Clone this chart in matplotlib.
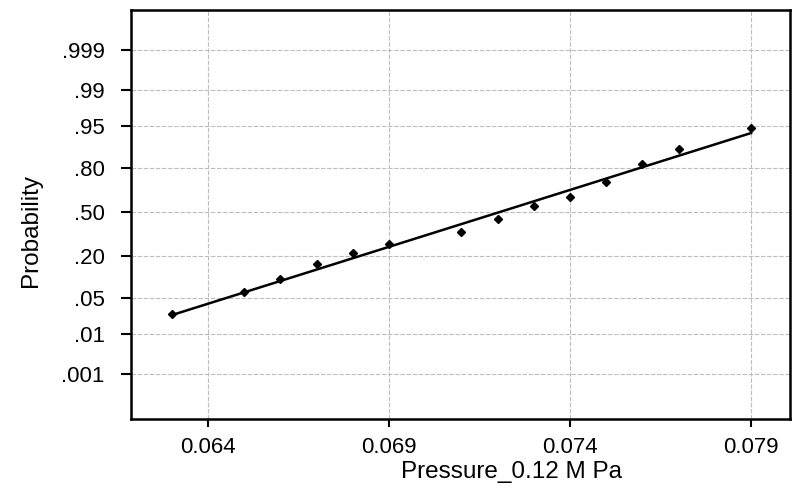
import math
import numpy as np
import matplotlib
matplotlib.use("Agg")
import matplotlib.pyplot as plt
from matplotlib.ticker import FixedLocator, FixedFormatter

# data
pressure = [0.0630, 0.0650, 0.0660, 0.0670, 0.0680, 0.0690, 0.0710,
            0.0720, 0.0730, 0.0740, 0.0750, 0.0760, 0.0770, 0.0790]
prob = [0.026, 0.063, 0.100, 0.161, 0.217, 0.271, 0.351,
        0.447, 0.546, 0.613, 0.717, 0.820, 0.885, 0.946]

# fitted normal line
fit_mean = 0.07206
fit_std = 0.004606

prob_ticks = [0.001, 0.01, 0.05, 0.20, 0.50, 0.80, 0.95, 0.99, 0.999]
prob_labels = ['.001', '.01', '.05', '.20', '.50', '.80', '.95', '.99', '.999']
x_ticks = [0.064, 0.069, 0.074, 0.079]
x_labels = ['0.064', '0.069', '0.074', '0.079']


def _cdf(z):
    return 0.5 * (1.0 + math.erf(z / math.sqrt(2.0)))


def _ppf(p):
    p = min(max(p, 1e-12), 1 - 1e-12)
    lo, hi = -8.0, 8.0
    for _ in range(70):
        mid = 0.5 * (lo + hi)
        if _cdf(mid) < p:
            lo = mid
        else:
            hi = mid
    return 0.5 * (lo + hi)


cdf = np.vectorize(_cdf, otypes=[float])
ppf = np.vectorize(_ppf, otypes=[float])

plt.rcParams['font.family'] = ['Liberation Sans', 'DejaVu Sans']

fig = plt.figure(figsize=(8.07, 4.88), dpi=100)
ax = fig.add_axes([0.1623, 0.1414, 0.8167, 0.8381])
ax.set_yscale('function', functions=(ppf, cdf))

ax.set_xlim(0.06187, 0.08008)
ax.set_ylim(float(cdf(-3.95)), float(cdf(3.855)))

ax.grid(True, color='#bdbdbd', linestyle=(0, (4, 1.5)), linewidth=0.8)
ax.set_axisbelow(True)

x_line = np.array([min(pressure), max(pressure)])
ax.plot(x_line, cdf((x_line - fit_mean) / fit_std), color='black', lw=1.8)
ax.plot(pressure, prob, linestyle='none', marker='D', markersize=4,
        color='black')

ax.yaxis.set_major_locator(FixedLocator(prob_ticks))
ax.yaxis.set_major_formatter(FixedFormatter(prob_labels))
ax.yaxis.set_minor_locator(FixedLocator([]))
ax.set_xticks(x_ticks)
ax.set_xticklabels(x_labels)

ax.tick_params(axis='y', length=7, width=1.5, pad=12, labelsize=16)
ax.tick_params(axis='x', length=6, width=1.5, pad=7, labelsize=16)
for sp in ax.spines.values():
    sp.set_linewidth(1.8)

ax.set_ylabel('Probability', fontsize=17.5)
ax.set_xlabel('Pressure_0.12 M Pa', fontsize=17.5)
ax.yaxis.set_label_coords(-0.135, 0.462)
ax.xaxis.set_label_coords(0.577, -0.103)

fig.savefig('out.png', dpi=100)
